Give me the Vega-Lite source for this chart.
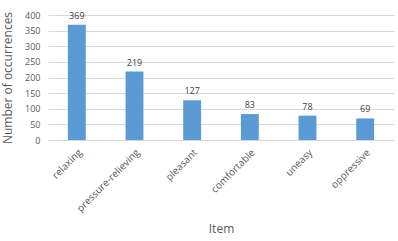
{
  "$schema": "https://vega.github.io/schema/vega-lite/v6.json",
  "autosize": "none",
  "width": 346,
  "height": 125,
  "padding": {"left": 48, "top": 15, "right": 4, "bottom": 101},
  "background": "white",
  "config": {
    "view": {"stroke": null},
    "font": "Open Sans",
    "axis": {"labelColor": "#595959", "titleColor": "#595959", "titleFontWeight": "normal"}
  },
  "data": {
    "values": [
      {"Item": "relaxing", "Count": 369},
      {"Item": "pressure-relieving", "Count": 219},
      {"Item": "pleasant", "Count": 127},
      {"Item": "comfortable", "Count": 83},
      {"Item": "uneasy", "Count": 78},
      {"Item": "oppressive", "Count": 69}
    ]
  },
  "encoding": {
    "x": {
      "field": "Item", "type": "nominal", "sort": null,
      "scale": {"paddingInner": 0.69, "paddingOuter": 0.345},
      "axis": {
        "title": "Item", "titleFontSize": 12, "titlePadding": 10,
        "labelAngle": -45, "labelFontSize": 10, "labelPadding": 7,
        "ticks": false, "domainColor": "#d9d9d9", "grid": false
      }
    },
    "y": {
      "field": "Count", "type": "quantitative",
      "scale": {"domain": [0, 400], "nice": false},
      "axis": {
        "title": "Number of occurrences", "titleFontSize": 12, "titlePadding": 10,
        "values": [0, 50, 100, 150, 200, 250, 300, 350, 400],
        "labelFontSize": 9, "labelPadding": 8,
        "ticks": false, "domain": false, "gridColor": "#d9d9d9"
      }
    }
  },
  "layer": [
    {"mark": {"type": "bar", "color": "#5b9bd5"}},
    {
      "mark": {"type": "text", "dy": -9, "fontSize": 9, "color": "#404040"},
      "encoding": {"text": {"field": "Count", "type": "quantitative"}}
    }
  ]
}
